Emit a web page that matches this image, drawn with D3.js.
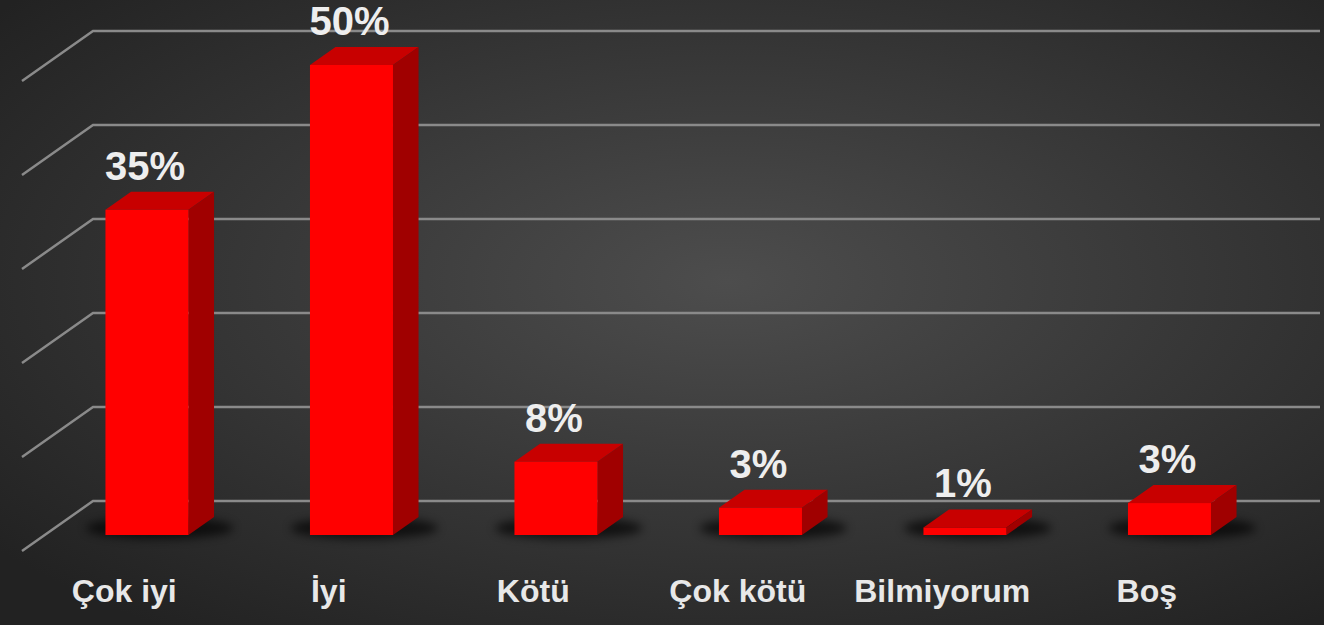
<!DOCTYPE html>
<html>
<head>
<meta charset="utf-8">
<script src="https://cdn.jsdelivr.net/npm/d3@7"></script>
<style>
  body { margin: 0; background: #2b2b2b; }
  svg { display: block; }
</style>
</head>
<body>
<div class="chart"></div>
<script>
var categories = ["Çok iyi", "İyi", "Kötü", "Çok kötü", "Bilmiyorum", "Boş"];
// bar heights (labels are the rounded figures)
var values = [34.6, 50, 7.8, 2.9, 0.8, 3.4];
var valueLabels = ["35%", "50%", "8%", "3%", "1%", "3%"];
var gridTicks = [0, 10, 20, 30, 40, 50];

var width = 1324, height = 625;
var depthX = 71, depthY = 50;     // oblique offset for the whole floor depth
var barFront = 0.32, barBack = 0.68;

var svg = d3.select(".chart")
  .append("svg")
    .attr("width", width)
    .attr("height", height);

var defs = svg.append("defs");
var bg = defs.append("radialGradient")
    .attr("id", "bg")
    .attr("cx", "55%").attr("cy", "45%").attr("r", "70%");
bg.append("stop").attr("offset", "0%").attr("stop-color", "#4d4d4d");
bg.append("stop").attr("offset", "100%").attr("stop-color", "#222222");

defs.append("filter")
    .attr("id", "blur")
    .attr("x", "-50%").attr("y", "-100%").attr("width", "200%").attr("height", "300%")
  .append("feGaussianBlur")
    .attr("stdDeviation", 5);

svg.append("rect")
    .attr("width", width)
    .attr("height", height)
    .attr("fill", "url(#bg)");

// scales live in the front plane of the floor
var x = d3.scaleBand()
    .domain(categories)
    .range([22, 1249])
    .paddingInner(0.594)
    .paddingOuter(0.297);
var y = d3.scaleLinear()
    .domain([0, 50])
    .range([551, 81]);

function proj(px, v, d) {
  return [px + depthX * d, y(v) - depthY * d];
}

// gridlines: side wall diagonal + back wall line
var x0 = x.range()[0], x1 = x.range()[1];
svg.append("g")
  .selectAll("path")
  .data(gridTicks)
  .enter().append("path")
    .attr("d", function(t) {
      return d3.line()([proj(x0, t, 0), proj(x0, t, 1), proj(x1, t, 1)]);
    })
    .attr("fill", "none")
    .attr("stroke", "#8a8a8a")
    .attr("stroke-width", 2.5);

var data = categories.map(function(c, i) {
  return { cat: c, val: values[i], label: valueLabels[i] };
});
var bw = x.bandwidth();

// soft shadows on the floor
svg.append("g")
  .selectAll("ellipse")
  .data(data)
  .enter().append("ellipse")
    .attr("cx", function(d) { return x(d.cat) + bw / 2 + depthX * 0.5; })
    .attr("cy", function(d) { return y(0) - depthY * 0.5 + 2; })
    .attr("rx", bw / 2 + 32)
    .attr("ry", 11)
    .attr("fill", "#000")
    .attr("opacity", 0.65)
    .attr("filter", "url(#blur)");

var bars = svg.append("g")
  .selectAll("g")
  .data(data)
  .enter().append("g");

// top face
bars.append("path")
    .attr("d", function(d) {
      var a = x(d.cat), b = a + bw;
      return d3.line()([proj(a, d.val, barFront), proj(b, d.val, barFront),
                        proj(b, d.val, barBack), proj(a, d.val, barBack)]) + "Z";
    })
    .attr("fill", "#c80000");

// side face
bars.append("path")
    .attr("d", function(d) {
      var b = x(d.cat) + bw;
      return d3.line()([proj(b, 0, barFront), proj(b, d.val, barFront),
                        proj(b, d.val, barBack), proj(b, 0, barBack)]) + "Z";
    })
    .attr("fill", "#a00000");

// front face
bars.append("rect")
    .attr("x", function(d) { return proj(x(d.cat), 0, barFront)[0]; })
    .attr("y", function(d) { return proj(0, d.val, barFront)[1]; })
    .attr("width", bw)
    .attr("height", function(d) { return y(0) - y(d.val); })
    .attr("fill", "#ff0000");

// value labels
svg.append("g")
    .attr("font-family", "'Liberation Sans', Arial, sans-serif")
    .attr("font-weight", "bold")
    .attr("font-size", 40)
    .attr("text-anchor", "middle")
    .attr("fill", "#eeeeee")
  .selectAll("text")
  .data(data)
  .enter().append("text")
    .attr("x", function(d) { return x(d.cat) + bw / 2 + depthX * barFront - 2; })
    .attr("y", function(d) { return y(d.val) - depthY * barBack - 12; })
    .text(function(d) { return d.label; });

// category labels
svg.append("g")
    .attr("font-family", "'Liberation Sans', Arial, sans-serif")
    .attr("font-weight", "bold")
    .attr("font-size", 32)
    .attr("text-anchor", "middle")
    .attr("fill", "#e8e8e8")
  .selectAll("text")
  .data(categories)
  .enter().append("text")
    .attr("x", function(d) { return x(d) + bw / 2; })
    .attr("y", 602)
    .text(function(d) { return d; });
</script>
</body>
</html>
